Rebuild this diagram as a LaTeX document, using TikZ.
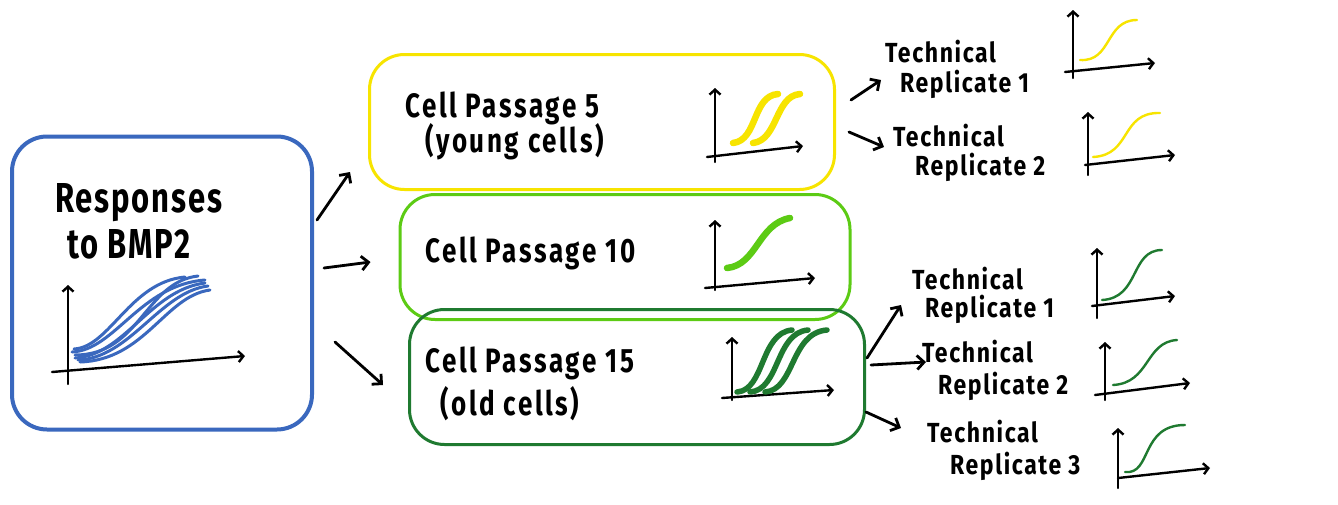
\documentclass[tikz,border=0pt]{standalone}
\usepackage{fontspec}
\setmainfont{Fira Sans}
\usetikzlibrary{calc,arrows.meta}
\definecolor{bmpblue}{HTML}{3A68BE}
\definecolor{pyellow}{HTML}{F7E400}
\definecolor{plime}{HTML}{5CCB14}
\definecolor{pgreen}{HTML}{1F7A30}
\newcommand{\tall}[2]{\scalebox{1}[#1]{#2}}
\tikzset{
  box/.style={rectangle, rounded corners=35pt, line width=3pt, inner sep=0pt},
  arr/.style={line width=2.8pt, line cap=round, -{Straight Barb[length=7pt,width=14pt,line width=2.8pt]}},
  axis/.style={line width=2.4pt, line cap=round, -{Straight Barb[length=5pt,width=11pt,line width=2.4pt]}},
  big/.style={font=\fontsize{31}{36}\selectfont\bfseries\addfontfeatures{LetterSpace=6}, inner sep=0pt},
  mid/.style={font=\fontsize{26}{30}\selectfont\bfseries\addfontfeatures{LetterSpace=10}, inner sep=0pt},
  small/.style={font=\fontsize{23}{26}\selectfont\bfseries\addfontfeatures{LetterSpace=7}, inner sep=0pt},
  thick curve/.style={line width=6.5pt, line cap=round},
  thin curve/.style={line width=2.4pt, line cap=round},
}
\begin{document}
\begin{tikzpicture}[x=1pt,y=-1pt]
\useasboundingbox (0,0) rectangle (1338,504);
\fill[white] (0,0) rectangle (1338,504);

% boxes
\node[box, draw=bmpblue, line width=4pt, minimum width=300pt, minimum height=293pt] (blue) at (162,283) {};
\node[box, draw=pyellow, minimum width=465pt, minimum height=135pt] (yellow) at (602,122) {};
\node[box, draw=plime, minimum width=450pt, minimum height=125pt] (lime) at (625,257) {};
\node[box, draw=pgreen, minimum width=455pt, minimum height=135pt] (dkgreen) at (637,377) {};

% texts
\node[big, anchor=base west] (resp1) at (55,212) {\tall{1.35}{Responses}};
\node[big, anchor=base west] (resp2) at (67,258) {\tall{1.35}{to BMP2}};
\node[mid, anchor=base west] (p5a) at (405,117) {\tall{1.3}{Cell Passage 5}};
\node[mid, anchor=base west] (p5b) at (425,152) {\tall{1.3}{(young cells)}};
\node[mid, anchor=base west] (p10) at (425,262) {\tall{1.3}{Cell Passage 10}};
\node[mid, anchor=base west] (p15a) at (425,372) {\tall{1.3}{Cell Passage 15}};
\node[mid, anchor=base west] (p15b) at (440,415) {\tall{1.3}{(old cells)}};

\node[small, anchor=base west] (ya) at (885,62) {\tall{1.2}{Technical}};
\node[small, anchor=base west] (yb) at (900,92) {\tall{1.2}{Replicate 1}};
\node[small, anchor=base west] (yc) at (893,146) {\tall{1.2}{Technical}};
\node[small, anchor=base west] (yd) at (915,175) {\tall{1.2}{Replicate 2}};
\node[small, anchor=base west] (ga) at (912,289) {\tall{1.2}{Technical}};
\node[small, anchor=base west] (gb) at (925,317) {\tall{1.2}{Replicate 1}};
\node[small, anchor=base west] (gc) at (922,362) {\tall{1.2}{Technical}};
\node[small, anchor=base west] (gd) at (938,394) {\tall{1.2}{Replicate 2}};
\node[small, anchor=base west] (ge) at (927,442) {\tall{1.2}{Technical}};
\node[small, anchor=base west] (gf) at (950,474) {\tall{1.2}{Replicate 3}};

% connectors
\draw[arr] ($(blue.east)+(3,-63)$) -- ($(yellow.west)+(-18,50)$);
\draw[arr] ($(blue.east)+(10,-15)$) -- ($(lime.west)+(-28,5)$);
\draw[arr] ($(blue.east)+(21,59)$) -- ($(dkgreen.west)+(-25,8)$);
\draw[arr] ($(yellow.east)+(15,-22)$) -- ($(yellow.east)+(45,-42)$);
\draw[arr] ($(yellow.east)+(13,10)$) -- ($(yellow.east)+(48,25)$);
\draw[arr] ($(dkgreen.east)+(1,-19)$) -- ($(dkgreen.east)+(35,-72)$);
\draw[arr] ($(dkgreen.east)+(5,-12)$) -- ($(dkgreen.east)+(60,-15)$);
\draw[arr] ($(dkgreen.east)+(0,35)$) -- ($(dkgreen.east)+(35,51)$);

% blue graph
\draw[axis] (68,384) -- (68,285);
\draw[axis] (52,372) -- (245,356);
\begin{scope}[bmpblue, line width=3pt, line cap=round]
\draw (72,352) .. controls (115,350) and (140,285) .. (205,280);
\draw (75,358) .. controls (125,355) and (150,290) .. (205,283);
\draw (78,360) .. controls (130,358) and (160,292) .. (208,286);
\draw (75,355) .. controls (140,355) and (145,282) .. (198,276);
\draw (80,362) .. controls (145,360) and (165,296) .. (210,290);
\draw (74,349) .. controls (110,347) and (130,282) .. (185,277);
\end{scope}

% yellow graph
\draw[axis] (715,162) -- (715,88);
\draw[axis] (707,157) -- (803,146);
\draw[pyellow, thick curve] (733,143) .. controls (758,140) and (752,96) .. (778,94);
\draw[pyellow, thick curve] (753,143) .. controls (778,140) and (775,96) .. (800,94);

% lime graph
\draw[axis] (715,290) -- (715,220);
\draw[axis] (705,288) -- (815,278);
\draw[plime, thick curve] (727,268) .. controls (757,265) and (758,224) .. (790,218);

% dark green graph
\draw[axis] (732,400) -- (732,337);
\draw[axis] (722,398) -- (834,390);
\draw[pgreen, line width=5.5pt, line cap=round] (737,392) .. controls (765,390) and (760,333) .. (792,330);
\draw[pgreen, line width=5.5pt, line cap=round] (750,392) .. controls (780,390) and (775,333) .. (808,330);
\draw[pgreen, line width=5.5pt, line cap=round] (765,392) .. controls (795,390) and (790,333) .. (827,330);

% replicate graphs (yellow)
\draw[axis] (1073,78) -- (1073,10);
\draw[axis] (1065,72) -- (1155,63);
\draw[pyellow, thin curve] (1080,60) .. controls (1112,62) and (1105,20) .. (1137,20);
\draw[axis] (1088,175) -- (1088,112);
\draw[axis] (1085,165) -- (1175,155);
\draw[pyellow, thin curve] (1093,157) .. controls (1132,155) and (1120,112) .. (1160,113);

% replicate graphs (dark green)
\draw[axis] (1097,318) -- (1097,248);
\draw[axis] (1092,306) -- (1175,296);
\draw[pgreen, thin curve] (1102,300) .. controls (1140,298) and (1130,250) .. (1162,250);
\draw[axis] (1105,400) -- (1105,342);
\draw[axis] (1095,395) -- (1190,383);
\draw[pgreen, thin curve] (1113,385) .. controls (1150,383) and (1145,342) .. (1177,340);
\draw[axis] (1118,488) -- (1118,428);
\draw[axis] (1118,478) -- (1210,468);
\draw[pgreen, thin curve] (1125,472) .. controls (1152,475) and (1140,425) .. (1185,425);
\end{tikzpicture}
\end{document}
